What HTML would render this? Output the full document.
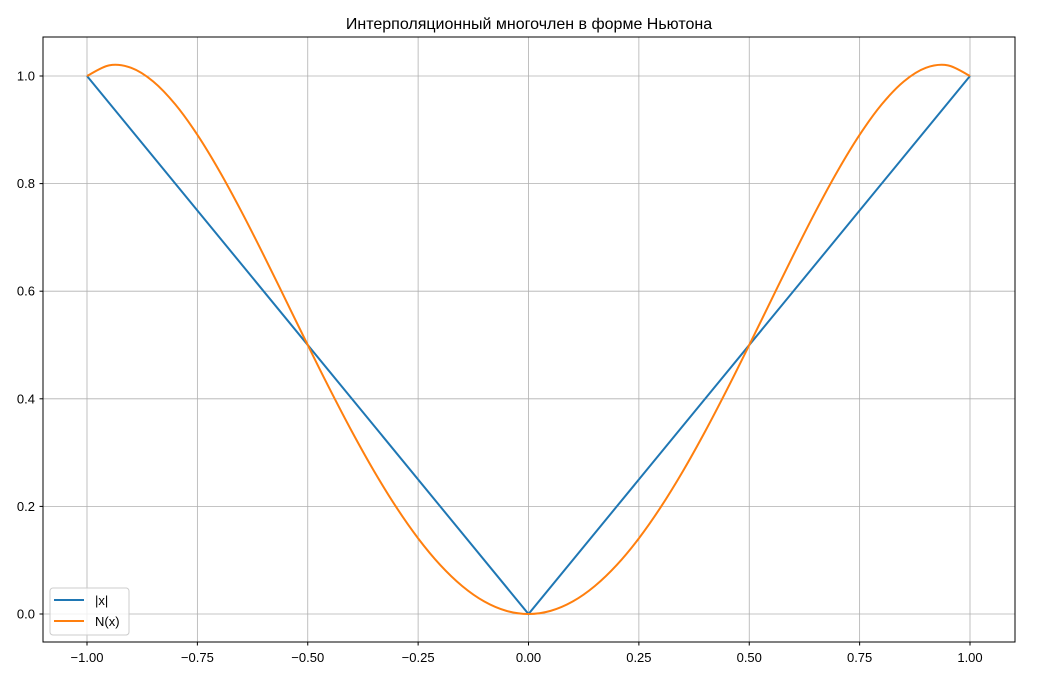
<!DOCTYPE html>
<html><head><meta charset="utf-8"><style>
body{margin:0;background:#fff;}
svg text{font-family:"Liberation Sans","DejaVu Sans",sans-serif;}
</style></head><body>
<svg id="chart" width="1056" height="679" xmlns="http://www.w3.org/2000/svg">
<rect width="1056" height="679" fill="#fff"/>
<text x="529" y="29" font-size="16" text-anchor="middle">Интерполяционный многочлен в форме Ньютона</text>
<g id="grid"></g><g id="ticks"></g><g id="series"></g>
<rect x="43" y="37" width="972" height="605" fill="none" stroke="#000" stroke-width="1"/>
<g>
<rect x="50" y="588" width="79" height="47" rx="3" fill="#fff" fill-opacity="0.8" stroke="#ccc"/>
<line x1="54" y1="600" x2="84" y2="600" stroke="#1f77b4" stroke-width="2"/>
<text x="95" y="605" font-size="13">|x|</text>
<line x1="54" y1="621" x2="84" y2="621" stroke="#ff7f0e" stroke-width="2"/>
<text x="95" y="626" font-size="13">N(x)</text>
</g>
</svg>
<script>
const xTicks=[-1,-0.75,-0.5,-0.25,0,0.25,0.5,0.75,1];
const xTickLabels=["−1.00","−0.75","−0.50","−0.25","0.00","0.25","0.50","0.75","1.00"];
const yTicks=[0,0.2,0.4,0.6,0.8,1.0];
const yTickLabels=["0.0","0.2","0.4","0.6","0.8","1.0"];
const absX=[-1,0,1];
const absY=[1,0,1];
const nX=[-1,-0.95,-0.9,-0.85,-0.8,-0.75,-0.7,-0.65,-0.6,-0.55,-0.5,-0.45,-0.4,-0.35,-0.3,-0.25,-0.2,-0.15,-0.1,-0.05,0,0.05,0.1,0.15,0.2,0.25,0.3,0.35,0.4,0.45,0.5,0.55,0.6,0.65,0.7,0.75,0.8,0.85,0.9,0.95,1];
const nY=[1,1.01982,1.0152,0.98982,0.9472,0.89063,0.8232,0.74782,0.6672,0.58382,0.5,0.41783,0.3392,0.26582,0.1992,0.14063,0.0912,0.05183,0.0232,0.00583,0,0.00583,0.0232,0.05183,0.0912,0.14063,0.1992,0.26582,0.3392,0.41783,0.5,0.58382,0.6672,0.74782,0.8232,0.89063,0.9472,0.98982,1.0152,1.01982,1];
const NS="http://www.w3.org/2000/svg";
const X=v=>528.5+v*441.5, Y=v=>614-v*538;
function mk(t,a,p){const e=document.createElementNS(NS,t);for(const k in a)e.setAttribute(k,a[k]);p.appendChild(e);return e;}
const g=document.getElementById('grid'),tk=document.getElementById('ticks'),s=document.getElementById('series');
xTicks.forEach((v,i)=>{
 const l=mk('line',{x1:X(v),x2:X(v),y1:37,y2:642,stroke:'#b0b0b0','stroke-width':0.8},g);
 
 mk('line',{x1:X(v),x2:X(v),y1:642,y2:645.5,stroke:'#000'},tk);
 const t=mk('text',{x:X(v),y:662,'font-size':13,'text-anchor':'middle'},tk);t.textContent=xTickLabels[i];
 
});
yTicks.forEach((v,i)=>{
 const l=mk('line',{x1:43,x2:1015,y1:Y(v),y2:Y(v),stroke:'#b0b0b0','stroke-width':0.8},g);
 
 mk('line',{x1:39.5,x2:43,y1:Y(v),y2:Y(v),stroke:'#000'},tk);
 const t=mk('text',{x:35,y:Y(v)+4.5,'font-size':13,'text-anchor':'end'},tk);t.textContent=yTickLabels[i];
 
});
function smooth(xs,ys){let d='M'+X(xs[0])+','+Y(ys[0]);const p=xs.map((x,i)=>[X(x),Y(ys[i])]);
 for(let i=0;i<p.length-1;i++){const p0=p[Math.max(0,i-1)],p1=p[i],p2=p[i+1],p3=p[Math.min(p.length-1,i+2)];
 d+=' C'+(p1[0]+(p2[0]-p0[0])/6)+','+(p1[1]+(p2[1]-p0[1])/6)+' '+(p2[0]-(p3[0]-p1[0])/6)+','+(p2[1]-(p3[1]-p1[1])/6)+' '+p2[0]+','+p2[1];}
 return d;}
const a=mk('polyline',{points:absX.map((x,i)=>X(x)+','+Y(absY[i])).join(' '),fill:'none',stroke:'#1f77b4','stroke-width':2},s);

const n=mk('path',{d:smooth(nX,nY),fill:'none',stroke:'#ff7f0e','stroke-width':2},s);

</script>
</body></html>
